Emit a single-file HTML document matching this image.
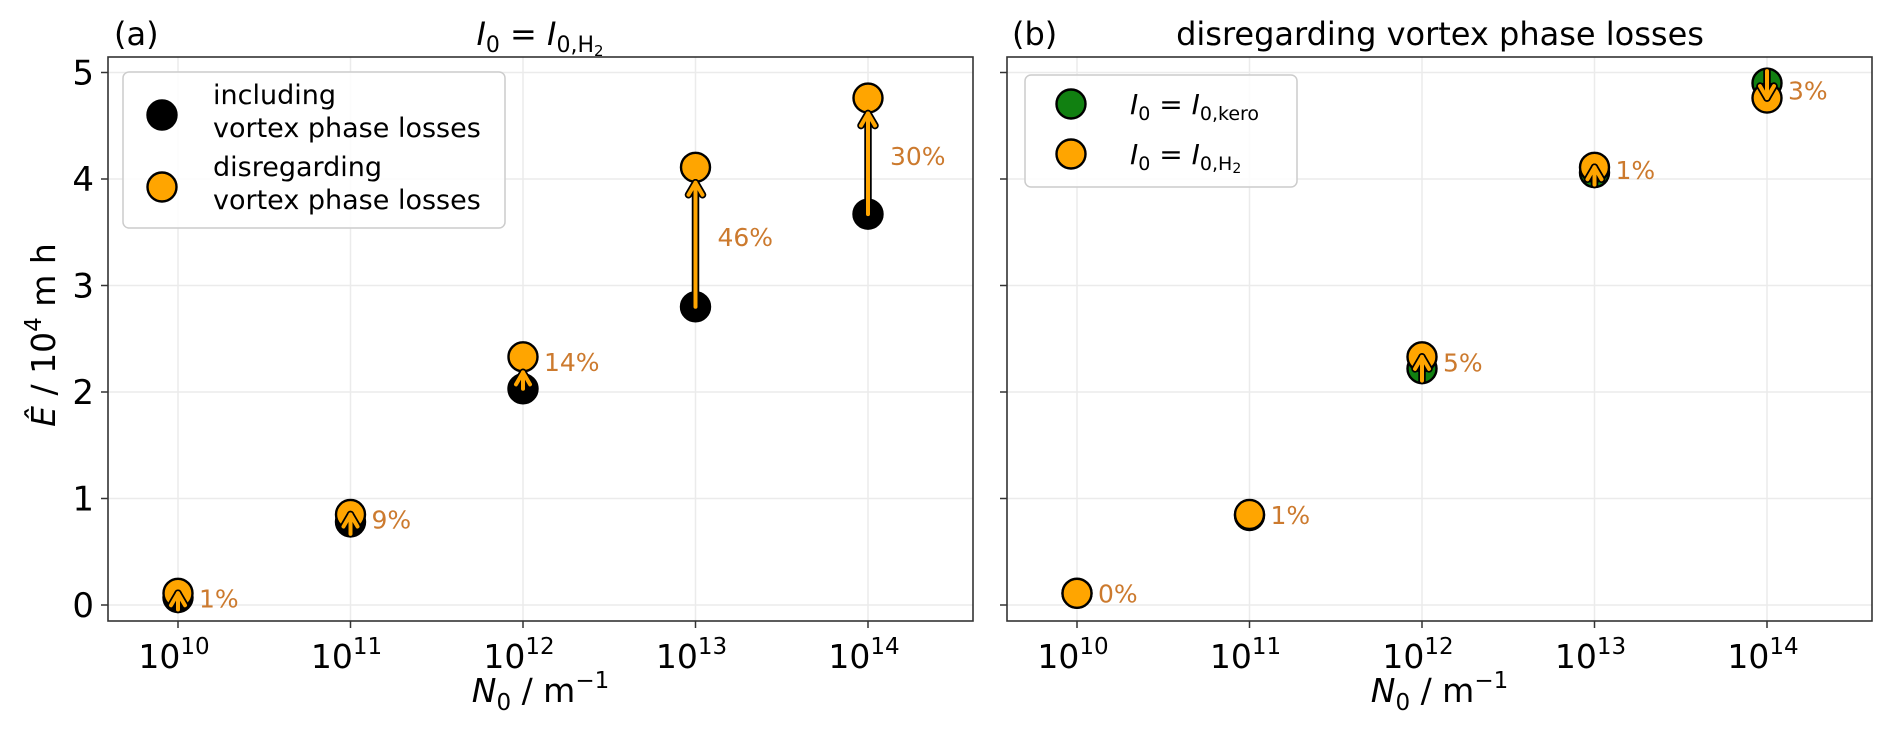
<!DOCTYPE html>
<html><head><meta charset="utf-8"><style>
body{margin:0;background:#fff}
svg{display:block;font-family:"DejaVu Sans","Liberation Sans",sans-serif}
</style></head><body>
<svg id="chart" width="1892" height="732" viewBox="0 0 1892 732" xmlns="http://www.w3.org/2000/svg"></svg>
<script>
const decades = [10, 11, 12, 13, 14];
const yTicks = [0, 1, 2, 3, 4, 5];
const incl = [0.07, 0.78, 2.03, 2.80, 3.67];
const disregH2 = [0.11, 0.85, 2.33, 4.11, 4.76];
const pctA = ["1%", "9%", "14%", "46%", "30%"];
const keroB = [0.11, 0.84, 2.22, 4.06, 4.90];
const pctB = ["0%", "1%", "5%", "1%", "3%"];

const NS = "http://www.w3.org/2000/svg";
const svg = document.getElementById("chart");
function el(tag, attrs, parent) {
  const e = document.createElementNS(NS, tag);
  for (const k in attrs) e.setAttribute(k, attrs[k]);
  (parent || svg).appendChild(e);
  return e;
}
const ORANGE = "#ffa500", TXT = "#cc7a2e";
const top0 = 57, bot0 = 621;
const R0 = 14.5;
function yS(v) { return 605 - v * 106.5; }

function panel(off, name) {
  const L = 108 + off, R = 973 + off;
  const xS = d => 178 + off + (d - 10) * 172.5;
  const g = el("g", {});
  
  
  decades.forEach(d => {
    const l = el("line", {x1: xS(d), x2: xS(d), y1: top0, y2: bot0, stroke: "#ebebeb", "stroke-width": 1.5}, g);
    
    
  });
  yTicks.forEach(v => {
    const l = el("line", {x1: L, x2: R, y1: yS(v), y2: yS(v), stroke: "#ebebeb", "stroke-width": 1.5}, g);
    
    
  });
  const fr = el("rect", {x: L, y: top0, width: R - L, height: bot0 - top0, fill: "none", stroke: "#333", "stroke-width": 1.6}, g);
  
  
  decades.forEach(d => {
    el("line", {x1: xS(d), x2: xS(d), y1: bot0, y2: bot0 + 7, stroke: "#333", "stroke-width": 1.5}, g);
    const t = el("text", {x: xS(d) - 4, y: bot0 + 47, "text-anchor": "middle", "font-size": 33}, g);
    
    
    t.innerHTML = '10<tspan dy="-14" font-size="23">' + d + '</tspan>';
  });
  yTicks.forEach(v => {
    el("line", {x1: L - 7, x2: L, y1: yS(v), y2: yS(v), stroke: "#333", "stroke-width": 1.5}, g);
    if (off === 0) {
      const t = el("text", {x: L - 14, y: yS(v) + 12, "text-anchor": "end", "font-size": 34}, g);
      
      
      t.textContent = v;
    }
  });
  const xl = el("text", {x: (L + R) / 2, y: 702, "text-anchor": "middle", "font-size": 33}, g);
  
  
  xl.innerHTML = '<tspan font-style="italic">N</tspan><tspan font-size="23" dy="8">0</tspan><tspan dy="-8"> / m</tspan><tspan font-size="23" dy="-14">−1</tspan>';
  return {g, xS, L, R};
}

function circle(g, x, y, fill, name) {
  const c = el("circle", {cx: x, cy: y, r: R0, fill: fill, stroke: "#000", "stroke-width": 2.4}, g);
  
  
}
function arrow(g, x, y1, y2, name) {
  const dir = y2 < y1 ? -1 : 1;
  const a = el("g", {"stroke-linecap": "round", "stroke-linejoin": "round", fill: "none"}, g);
  
  
  const head = `${x - 7},${y2 - dir * 12} ${x},${y2} ${x + 7},${y2 - dir * 12}`;
  el("line", {x1: x, y1: y1, x2: x, y2: y2, stroke: "#000", "stroke-width": 7.5}, a);
  el("polyline", {points: head, stroke: "#000", "stroke-width": 7.5}, a);
  el("line", {x1: x, y1: y1, x2: x, y2: y2, stroke: ORANGE, "stroke-width": 4}, a);
  el("polyline", {points: head, stroke: ORANGE, "stroke-width": 4}, a);
}
function label(g, x, y, txt) {
  const t = el("text", {x: x, y: y, "font-size": 25, fill: TXT}, g);
  
  
  t.textContent = txt;
}
function arrowEnds(yFrom, yTo) {
  const gap = Math.abs(yFrom - yTo);
  const dir = yTo < yFrom ? -1 : 1;
  if (gap > 2 * R0) return [yFrom, yTo - dir * (R0 + 1)];
  return [yFrom - dir * 12, yTo];
}

// Panel A
const A = panel(0, "panel-a");
decades.forEach((d, i) => circle(A.g, A.xS(d), yS(incl[i]), "#000", "including-point"));
decades.forEach((d, i) => circle(A.g, A.xS(d), yS(disregH2[i]), ORANGE, "disregarding-point"));
decades.forEach((d, i) => {
  const e = arrowEnds(yS(incl[i]), yS(disregH2[i]));
  arrow(A.g, A.xS(d), e[0], e[1], "increase-arrow");
});
decades.forEach((d, i) => {
  const big = disregH2[i] - incl[i] > 0.6;
  const ly = big ? (yS(incl[i]) + yS(disregH2[i])) / 2 + 9 : yS(disregH2[i]) + 14;
  label(A.g, A.xS(d) + (big ? 22 : 21), ly, pctA[i]);
});

// Panel B
const B = panel(899, "panel-b");
decades.forEach((d, i) => circle(B.g, B.xS(d), yS(keroB[i]), "#118011", "kero-point"));
decades.forEach((d, i) => circle(B.g, B.xS(d), yS(disregH2[i]), ORANGE, "h2-point"));
decades.forEach((d, i) => {
  const a = yS(keroB[i]), b = yS(disregH2[i]);
  if (Math.abs(a - b) > 2) {
    const e = arrowEnds(a, b);
    arrow(B.g, B.xS(d), e[0], e[1], "diff-arrow");
  }
});
decades.forEach((d, i) => label(B.g, B.xS(d) + 21, (yS(disregH2[i]) + yS(keroB[i])) / 2 + 9, pctB[i]));

function txt(x, y, size, html, name, anchor) {
  const t = el("text", {x: x, y: y, "font-size": size, "text-anchor": anchor || "start"});
  
  
  t.innerHTML = html;
}
txt(114, 45, 32, "(a)", "panel-a-label");
txt(540, 45, 32, '<tspan font-style="italic">I</tspan><tspan font-size="22" dy="7">0</tspan><tspan dy="-7"> = </tspan><tspan font-style="italic">I</tspan><tspan font-size="22" dy="7">0,H</tspan><tspan font-size="15" dy="4">2</tspan>', "panel-a-title", "middle");
txt(1012, 45, 32, "(b)", "panel-b-label");
txt(1440, 45, 32, "disregarding vortex phase losses", "panel-b-title", "middle");
const yl = el("text", {x: 0, y: 0, "font-size": 33, "text-anchor": "middle", transform: "translate(55,335) rotate(-90)"});


yl.innerHTML = '<tspan font-style="italic">Ê</tspan> / 10<tspan font-size="23" dy="-14">4</tspan><tspan dy="14"> m h</tspan>';

const la = el("g", {});


el("rect", {x: 123, y: 72, width: 382, height: 156, rx: 6, fill: "#fff", "fill-opacity": 0.85, stroke: "#ccc", "stroke-width": 1.5}, la);
circle(la, 162, 115, "#000", "legend-marker-including");
circle(la, 162, 187, ORANGE, "legend-marker-disregarding");
[["including", 104], ["vortex phase losses", 137], ["disregarding", 176], ["vortex phase losses", 209]].forEach(r => {
  const t = el("text", {x: 213, y: r[1], "font-size": 27}, la);
  
  
  t.textContent = r[0];
});
const lb = el("g", {});


el("rect", {x: 1025, y: 75, width: 272, height: 112, rx: 6, fill: "#fff", "fill-opacity": 0.85, stroke: "#ccc", "stroke-width": 1.5}, lb);
circle(lb, 1071, 104, "#118011", "legend-marker-kero");
circle(lb, 1071, 154, ORANGE, "legend-marker-h2");
[['<tspan font-style="italic">I</tspan><tspan font-size="19" dy="6">0</tspan><tspan dy="-6"> = </tspan><tspan font-style="italic">I</tspan><tspan font-size="19" dy="6">0,kero</tspan>', 114],
 ['<tspan font-style="italic">I</tspan><tspan font-size="19" dy="6">0</tspan><tspan dy="-6"> = </tspan><tspan font-style="italic">I</tspan><tspan font-size="19" dy="6">0,H</tspan><tspan font-size="14" dy="3">2</tspan>', 164]].forEach(r => {
  const t = el("text", {x: 1130, y: r[1], "font-size": 28}, lb);
  
  
  t.innerHTML = r[0];
});
</script>
</body></html>
